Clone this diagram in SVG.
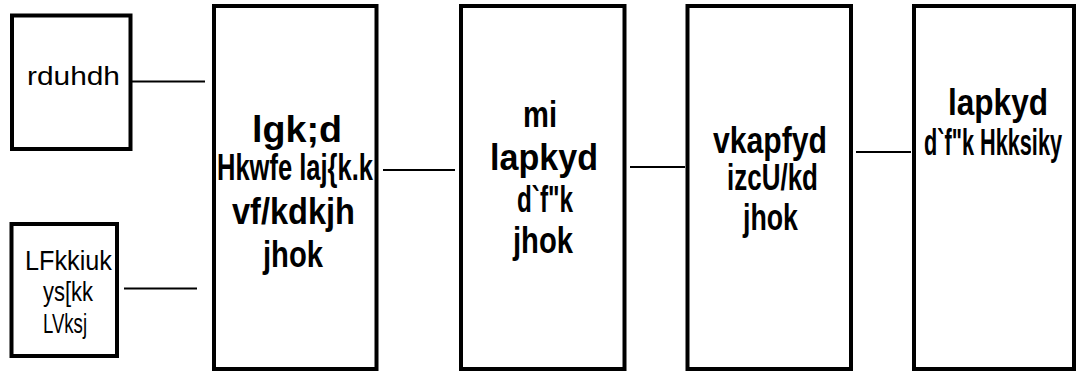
<svg xmlns="http://www.w3.org/2000/svg" width="1078" height="372" viewBox="0 0 1078 372">
<style>
.box{fill:#fff;stroke:#000;stroke-width:4}
.ln{stroke:#000;stroke-width:2;fill:none}
.t{font-family:"Liberation Sans",Arial,sans-serif;fill:#000;text-anchor:middle}
.s25{font-size:25px}
.s28{font-size:28px}
.s37{font-size:37px;font-weight:bold}
</style>
<rect x="0" y="0" width="1078" height="372" fill="#fff"/>
<g id="connectors">
<line class="ln" x1="132" y1="81.5" x2="205" y2="81.5"/>
<line class="ln" x1="124" y1="288.5" x2="197" y2="288.5"/>
<line class="ln" x1="383" y1="170" x2="455" y2="170"/>
<line class="ln" x1="630" y1="167" x2="685" y2="167"/>
<line class="ln" x1="856" y1="152" x2="911" y2="152"/>
</g>
<g id="node1">
<rect class="box" x="12" y="15.5" width="118.5" height="133.5"/>
<text class="t s25" x="73.5" y="85" textLength="93" lengthAdjust="spacingAndGlyphs">rduhdh</text>
</g>
<g id="node2">
<rect class="box" x="11.5" y="224" width="105.5" height="132"/>
<text class="t s28" x="68.5" y="270" textLength="87" lengthAdjust="spacingAndGlyphs">LFkkiuk</text>
<text class="t s28" x="68" y="301" textLength="50" lengthAdjust="spacingAndGlyphs">ys[kk</text>
<text class="t s28" x="65" y="333" textLength="44" lengthAdjust="spacingAndGlyphs">LVksj</text>
</g>
<g id="node3">
<rect class="box" x="214" y="6" width="162.5" height="363"/>
<text class="t s37" x="297" y="142" textLength="90" lengthAdjust="spacingAndGlyphs">lgk;d</text>
<text class="t s37" x="295" y="180" textLength="156" lengthAdjust="spacingAndGlyphs">Hkwfe laj{k.k</text>
<text class="t s37" x="293.5" y="224" textLength="123" lengthAdjust="spacingAndGlyphs">vf/kdkjh</text>
<text class="t s37" x="293" y="267" textLength="60" lengthAdjust="spacingAndGlyphs">jhok</text>
</g>
<g id="node4">
<rect class="box" x="461" y="6" width="163.5" height="363"/>
<text class="t s37" x="540" y="127" textLength="34" lengthAdjust="spacingAndGlyphs">mi</text>
<text class="t s37" x="544" y="170" textLength="108" lengthAdjust="spacingAndGlyphs">lapkyd</text>
<text class="t s37" x="545" y="212" textLength="56" lengthAdjust="spacingAndGlyphs">d`f"k</text>
<text class="t s37" x="543" y="253" textLength="60" lengthAdjust="spacingAndGlyphs">jhok</text>
</g>
<g id="node5">
<rect class="box" x="687.5" y="6" width="163.5" height="363"/>
<text class="t s37" x="770" y="153" textLength="114" lengthAdjust="spacingAndGlyphs">vkapfyd</text>
<text class="t s37" x="772.5" y="190" textLength="91" lengthAdjust="spacingAndGlyphs">izcU/kd</text>
<text class="t s37" x="770.5" y="230" textLength="55" lengthAdjust="spacingAndGlyphs">jhok</text>
</g>
<g id="node6">
<rect class="box" x="914" y="6" width="160" height="363"/>
<text class="t s37" x="998" y="115" textLength="100" lengthAdjust="spacingAndGlyphs">lapkyd</text>
<text class="t s37" x="993" y="155" textLength="138" lengthAdjust="spacingAndGlyphs">d`f"k Hkksiky</text>
</g>
</svg>
